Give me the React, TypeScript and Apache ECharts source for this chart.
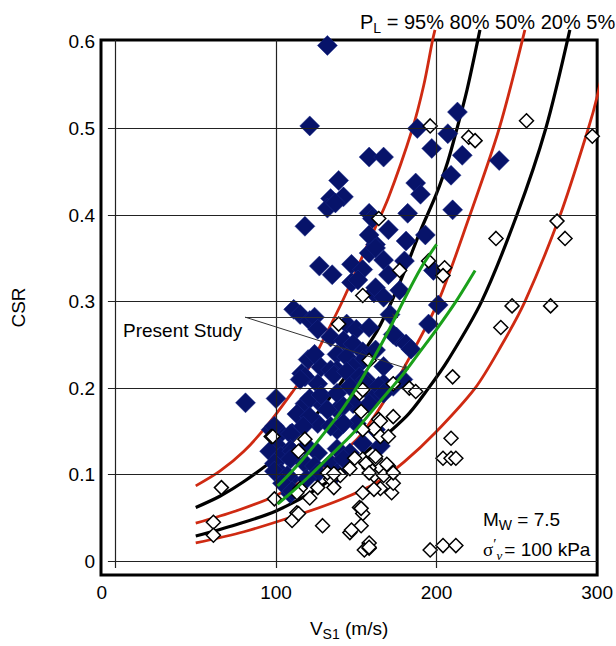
import React, { useEffect, useRef } from "react";
import * as echarts from "echarts";

// ---- axis ticks ----
const xTickValues = [-8.5, 100, 200, 300];
const xTickLabels = ["0", "100", "200", "300"];
const yTickValues = [0, 0.1, 0.2, 0.3, 0.4, 0.5, 0.6];
const yTickLabels = ["0", "0.1", "0.2", "0.3", "0.4", "0.5", "0.6"];
const gridX = [0, 100, 200];
const gridY = [0, 0.1, 0.2, 0.3, 0.4, 0.5];

// ---- probability curves (Vs1, CSR) ----
const curve95 = [[50,0.087],[65,0.104],[80,0.127],[95,0.158],[110,0.195],[120,0.222],[130,0.258],[142,0.303],[158,0.37],[170,0.42],[185,0.5],[192,0.55],[197.5,0.602],[199,0.614]];
const curve80 = [[50,0.062],[65,0.075],[80,0.092],[100,0.12],[120,0.158],[140,0.205],[161,0.26],[170,0.292],[180,0.335],[190,0.382],[200,0.425],[207,0.462],[212,0.495],[219,0.545],[227,0.614]];
const curve50 = [[50,0.044],[75,0.058],[100,0.076],[125,0.103],[150,0.14],[165,0.178],[181,0.228],[201,0.3],[220,0.396],[239,0.5],[255,0.614]];
const curve20 = [[50,0.029],[75,0.042],[100,0.058],[125,0.083],[150,0.117],[181,0.167],[195,0.2],[207,0.232],[228,0.3],[250,0.4],[268,0.5],[283,0.614]];
const curve05 = [[50,0.021],[80,0.034],[113,0.053],[140,0.071],[162,0.09],[180,0.115],[199,0.148],[224,0.2],[240,0.248],[255,0.3],[277,0.4],[294.5,0.5],[300,0.537],[306,0.59]];

// ---- present study curves ----
const presentUpper = [[101,0.087],[110,0.104],[120,0.125],[130,0.148],[140,0.172],[150,0.2],[160,0.232],[170,0.266],[180,0.303],[190,0.338],[200,0.366]];
const presentLower = [[101,0.066],[110,0.08],[120,0.097],[130,0.115],[140,0.133],[150,0.152],[160,0.174],[170,0.196],[180,0.218],[190,0.243],[200,0.268],[212,0.3],[224,0.336]];

// ---- liquefied (filled) ----
const liquefied = [
  [132,0.596],[121,0.503],[188,0.5],[213,0.519],[207,0.494],[197,0.477],[158,0.467],[167,0.467],[216,0.469],[239,0.463],
  [139,0.44],[187,0.437],[190,0.424],[209,0.446],[142,0.421],[134,0.419],[132,0.408],[137,0.414],[158,0.402],[182,0.402],[210,0.406],
  [118,0.387],[160,0.396],[170,0.383],[181,0.37],[193,0.377],[162,0.366],[158,0.377],[158,0.356],[162,0.362],
  [127,0.341],[135,0.331],[147,0.343],[154,0.337],[167,0.348],[170,0.331],[180,0.347],[198,0.336],
  [147,0.322],[151,0.325],[161,0.31],[162,0.316],[167,0.305],[177,0.313],[171,0.285],
  [111,0.291],[115,0.285],[121,0.278],[124,0.282],[126,0.268],[144,0.274],[150,0.268],[158,0.27],
  [134,0.259],[142,0.255],[148,0.251],[175,0.259],[181,0.251],[173,0.262],[201,0.296],[195,0.274],[184,0.245],
  [120,0.233],[124,0.239],[138,0.239],[144,0.236],[154,0.242],[162,0.244],[154,0.232],
  [128,0.224],[138,0.221],[148,0.224],[167,0.225],[116,0.217],[118,0.213],[115,0.21],[126,0.205],[134,0.221],
  [136,0.215],[144,0.219],[152,0.213],[156,0.21],[161,0.19],[167,0.205],[179,0.21],[173,0.202],
  [118,0.182],[128,0.182],[138,0.175],[148,0.182],[126,0.159],[138,0.152],[150,0.159],
  [81,0.183],[100,0.188],[113,0.17],[121,0.188],[128,0.192],[138,0.194],[146,0.202],[156,0.205],[164,0.202],
  [121,0.167],[132,0.175],[142,0.179],[158,0.182],[167,0.194],
  [97,0.152],[103,0.148],[110,0.148],[117,0.156],[134,0.156],[142,0.159],[162,0.152],[99,0.156],[109,0.147],
  [101,0.133],[109,0.129],[119,0.133],[126,0.125],[138,0.13],[146,0.125],[154,0.136],[165,0.133],[96,0.127],[103,0.121],[110,0.127],
  [99,0.113],[109,0.118],[118,0.113],[124,0.11],[134,0.113],[142,0.118],
  [103,0.102],[109,0.095],[126,0.102],[138,0.102],[99,0.104],[107,0.099],
  [104,0.09],[119,0.095],[109,0.078],[110,0.081]
];

// ---- non-liquefied (open) ----
const nonLiquefied = [
  [196,0.503],[220,0.49],[224,0.486],[256,0.509],[297,0.491],
  [237,0.373],[275,0.393],[280,0.373],[247,0.295],[271,0.295],[240,0.27],
  [210,0.213],[205,0.339],[204,0.33],[195,0.347],[177,0.336],[164,0.396],
  [154,0.307],[139,0.274],[158,0.232],[173,0.205],[183,0.2],[187,0.196],[152,0.194],[154,0.198],
  [153,0.173],[164,0.164],[173,0.167],[165,0.162],[161,0.153],[165,0.144],[170,0.144],[154,0.152],
  [209,0.142],[204,0.119],[209,0.119],[212,0.119],
  [196,0.013],[204,0.018],[212,0.018],
  [158,0.021],[155,0.013],[158,0.015],[158,0.016],
  [152,0.062],[154,0.055],[153,0.041],[146,0.033],[129,0.041],[147,0.036],[153,0.061],
  [172,0.079],[173,0.09],[165,0.084],[161,0.099],[167,0.099],[170,0.11],
  [158,0.108],[146,0.107],[140,0.099],[134,0.095],[162,0.118],[154,0.118],[149,0.119],
  [136,0.085],[126,0.085],[115,0.084],[121,0.073],[113,0.079],
  [97,0.144],[118,0.141],[114,0.127],[132,0.102],[136,0.101],
  [156,0.113],[162,0.121],[169,0.112],[173,0.102],[158,0.102],[161,0.083],[154,0.079],
  [99,0.072],[113,0.056],[110,0.047],[114,0.055],
  [66,0.085],[61,0.045],[61,0.03],[98,0.144]
];

// ---- annotation anchors (data coords) ----
const leaderStart = [80.8, 0.282];
const leaderEnds = [[176, 0.282], [182.7, 0.222]];

const FONT = "'Liberation Sans', Arial, Helvetica, sans-serif";

export default function App() {
  const ref = useRef<HTMLDivElement>(null);
  useEffect(() => {
    if (!ref.current) return;
    const chart = echarts.init(ref.current, undefined, { renderer: "svg" });
    const gridLines: any[] = [];
    gridX.forEach((x) => gridLines.push([{ coord: [x, -0.008] }, { coord: [x, 0.6023] }]));
    gridY.forEach((y) => gridLines.push([{ coord: [-4.7, y] }, { coord: [300, y] }]));

    const curveSeries = (data: number[][], color: string, width: number) => ({
      type: "line",
      data,
      smooth: 0.3,
      symbol: "none",
      showSymbol: false,
      clip: false,
      silent: true,
      lineStyle: { color, width },
      z: 2,
    });

    const option: any = {
      animation: false,
      backgroundColor: "#fff",
      grid: {
        left: 101,
        top: 40,
        width: 503,
        height: 540,
        show: true,
        borderColor: "#000",
        borderWidth: 3,
        backgroundColor: "transparent",
      },
      xAxis: {
        type: "value",
        min: -9,
        max: 300,
        axisLine: { show: false },
        axisTick: { show: false },
        splitLine: { show: false },
        axisLabel: {
          customValues: xTickValues,
          formatter: (v: number) => {
            let best = 0;
            xTickValues.forEach((t, i) => {
              if (Math.abs(t - v) < Math.abs(xTickValues[best] - v)) best = i;
            });
            return xTickLabels[best];
          },
          color: "#000",
          fontSize: 19,
          fontFamily: FONT,
          margin: 8,
        },
        name: "{a|V}{s|S1}{a| (m/s)}",
        nameLocation: "middle",
        nameGap: 40,
        nameTextStyle: {
          rich: {
            a: { fontSize: 19, fontFamily: FONT, color: "#000", lineHeight: 26, verticalAlign: "middle" },
            s: { fontSize: 14, fontFamily: FONT, color: "#000", lineHeight: 14, verticalAlign: "bottom" },
          },
        },
      },
      yAxis: {
        type: "value",
        min: -0.016,
        max: 0.6023,
        axisLine: { show: false },
        axisTick: { show: false },
        splitLine: { show: false },
        axisLabel: {
          customValues: yTickValues,
          formatter: (v: number) => {
            let best = 0;
            yTickValues.forEach((t, i) => {
              if (Math.abs(t - v) < Math.abs(yTickValues[best] - v)) best = i;
            });
            return yTickLabels[best];
          },
          color: "#000",
          fontSize: 19,
          fontFamily: FONT,
          margin: 6,
        },
        name: "CSR",
        nameLocation: "middle",
        nameGap: 73,
        nameRotate: 90,
        nameTextStyle: { fontSize: 19, fontFamily: FONT, color: "#000" },
      },
      series: [
        {
          type: "line",
          data: [],
          silent: true,
          z: 1,
          markLine: {
            silent: true,
            symbol: ["none", "none"],
            label: { show: false },
            lineStyle: { color: "#222", width: 1.2, type: "solid" },
            emphasis: { disabled: true },
            data: gridLines,
          },
        },
        curveSeries(curve95, "#cf2a12", 2.8),
        curveSeries(curve80, "#000", 3.2),
        curveSeries(curve50, "#cf2a12", 2.8),
        curveSeries(curve20, "#000", 3.2),
        curveSeries(curve05, "#cf2a12", 2.8),
        {
          type: "scatter",
          data: liquefied,
          symbol: "diamond",
          symbolSize: [20, 20],
          itemStyle: { color: "#07136a", borderColor: "#1a2a8a", borderWidth: 0.5, opacity: 1 },
          silent: true,
          z: 3,
        },
        {
          type: "scatter",
          data: nonLiquefied,
          symbol: "diamond",
          symbolSize: [14, 14],
          itemStyle: { color: "#fff", borderColor: "#000", borderWidth: 1.5, opacity: 1 },
          silent: true,
          z: 4,
        },
        {
          type: "line",
          data: presentUpper,
          smooth: 0.3,
          symbol: "none",
          clip: false,
          silent: true,
          lineStyle: { color: "#1aa01a", width: 3 },
          z: 5,
        },
        {
          type: "line",
          data: presentLower,
          smooth: 0.3,
          symbol: "none",
          clip: false,
          silent: true,
          lineStyle: { color: "#1aa01a", width: 3 },
          z: 5,
        },
        {
          type: "line",
          data: [],
          silent: true,
          z: 6,
          markLine: {
            silent: true,
            symbol: ["none", "arrow"],
            symbolSize: 6,
            label: { show: false },
            lineStyle: { color: "#333", width: 1, type: "solid" },
            emphasis: { disabled: true },
            data: leaderEnds.map((e) => [{ coord: leaderStart }, { coord: e }]),
          },
        },
      ],
      graphic: [
        {
          type: "text",
          x: 360,
          y: 22,
          style: {
            text: "{a|P}{s|L}{a| = 95% 80% 50% 20% 5%}",
            verticalAlign: "middle",
            rich: {
              a: { fontSize: 20, fontFamily: FONT, fill: "#000", lineHeight: 26, verticalAlign: "middle" },
              s: { fontSize: 14, fontFamily: FONT, fill: "#000", lineHeight: 14, verticalAlign: "bottom" },
            },
          },
          z: 10,
        },
        {
          type: "text",
          x: 123,
          y: 330,
          style: {
            text: "Present Study",
            fontSize: 19,
            fontFamily: FONT,
            fill: "#000",
            verticalAlign: "middle",
          },
          z: 10,
        },
        {
          type: "text",
          x: 483,
          y: 519,
          style: {
            text: "{a|M}{s|W}{a| = 7.5}",
            verticalAlign: "middle",
            rich: {
              a: { fontSize: 19, fontFamily: FONT, fill: "#000", lineHeight: 26, verticalAlign: "middle" },
              s: { fontSize: 14, fontFamily: FONT, fill: "#000", lineHeight: 14, verticalAlign: "bottom" },
            },
          },
          z: 10,
        },
        {
          type: "text",
          x: 483,
          y: 549,
          style: {
            text: "{g|σ}{p|′}{v|v}{a|= 100 kPa}",
            verticalAlign: "middle",
            rich: {
              g: { fontSize: 19, fontFamily: "'Liberation Serif', 'DejaVu Serif', serif", fill: "#000", lineHeight: 26, verticalAlign: "middle" },
              p: { fontSize: 15, fontFamily: "'Liberation Serif', serif", fill: "#000", lineHeight: 26, verticalAlign: "top" },
              v: { fontSize: 13, fontFamily: "'Liberation Serif', serif", fontStyle: "italic", fill: "#000", lineHeight: 13, verticalAlign: "bottom" },
              a: { fontSize: 19, fontFamily: FONT, fill: "#000", lineHeight: 26, verticalAlign: "middle", padding: [0, 0, 0, 2] },
            },
          },
          z: 10,
        },
      ],
    };
    chart.setOption(option);
    return () => chart.dispose();
  }, []);
  return (
    <div
      ref={ref}
      style={{ position: "absolute", left: 0, top: 0, width: 616, height: 646 }}
    />
  );
}
